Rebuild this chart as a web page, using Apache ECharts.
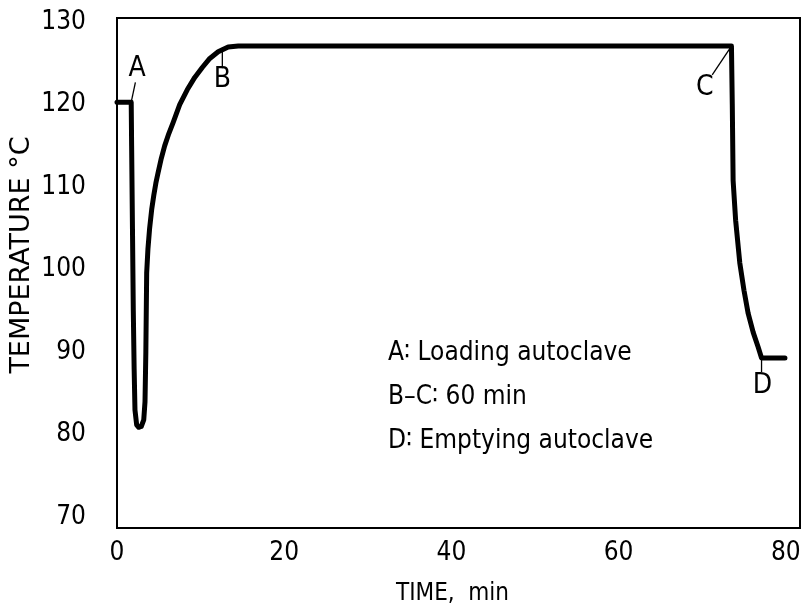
<!DOCTYPE html>
<html style="height: 100%">
<head>
    <meta charset="UTF-8">
    <title>Autoclave temperature</title>
    <script src="https://cdn.jsdelivr.net/npm/echarts/dist/echarts.min.js"></script>
    <style>
        #main { width: 804px; height: 610px; }
    </style>
</head>
<body style="height: 100%; margin: 0; background: #fff">
    <div id="main"></div>
    <script type="text/javascript">
        // time (min) / temperature (C)
        var curveTime = [0, 1.7, 1.75, 1.85, 1.95, 2.05, 2.15, 2.35, 2.6, 2.9, 3.2, 3.35, 3.45, 3.55, 3.7, 3.9, 4.15, 4.4, 4.65, 4.9, 5.3, 5.7, 6.2, 6.7, 7.5, 8.4, 9.3, 10.2, 11.1, 12.1, 13.3, 14.5, 73.5, 73.6, 73.7, 74.0, 74.5, 75.0, 75.5, 76.1, 76.7, 77.1, 79.9];
        var curveTemp = [120.3, 120.3, 115, 105, 95, 88, 83, 81.2, 80.9, 81, 81.8, 84, 90, 99.6, 102.5, 105, 107.3, 109, 110.5, 111.7, 113.5, 115, 116.5, 117.8, 120, 121.8, 123.3, 124.5, 125.6, 126.4, 127.0, 127.1, 127.1, 120, 110.8, 106, 100.8, 97.5, 94.7, 92.4, 90.6, 89.3, 89.3];

        // point letters and their leader lines
        var markNames = ['A', 'B', 'C', 'D'];
        var markPos = [[2.4, 124.4], [12.6, 123], [70.3, 122], [77.2, 85.9]];
        var leaders = [
            [[1.7, 120.3], [2.2, 122.7]],
            [[12.6, 126.9], [12.6, 124.4]],
            [[73.5, 127.1], [71.2, 123.6]],
            [[77.1, 89.3], [77.1, 87.6]]
        ];

        var xTicks = [0, 20, 40, 60, 80];
        var yTicks = [70, 80, 90, 100, 110, 120, 130];
        var notes = ['A\u2236 Loading autoclave', 'B\u2013C\u2236 60 min', 'D\u2236 Emptying autoclave'];

        var font = '"DejaVu Sans Condensed", "DejaVu Sans", sans-serif';
        var wide = '"DejaVu Sans", sans-serif';
        var chartDom = document.getElementById('main');
        var myChart = echarts.init(chartDom);

        var curve = curveTime.map(function (t, i) { return [t, curveTemp[i]]; });

        var series = [{
            type: 'line',
            data: curve,
            symbol: 'none',
            lineStyle: { color: '#000', width: 5, join: 'round', cap: 'round' },
            z: 3
        }];
        leaders.forEach(function (seg) {
            series.push({
                type: 'line',
                data: seg,
                symbol: 'none',
                lineStyle: { color: '#000', width: 1.3 },
                z: 2
            });
        });
        series.push({
            type: 'scatter',
            symbolSize: 0,
            itemStyle: { opacity: 1 },
            data: markPos.map(function (p, i) { return { value: p, name: markNames[i] }; }),
            label: {
                show: true,
                position: 'inside',
                formatter: '{b}',
                color: '#000',
                opacity: 1,
                textBorderWidth: 0,
                fontSize: 28,
                fontFamily: font
            }
        });

        var notesGraphic = notes.map(function (s, i) {
            return {
                type: 'text',
                left: 388,
                top: 340 + i * 44,
                style: { text: s, fill: '#000', fontSize: 26, fontFamily: font }
            };
        });
        notesGraphic.push({
            type: 'text',
            x: 22,
            y: 255,
            rotation: Math.PI / 2,
            style: {
                text: 'TEMPERATURE \u00B0C',
                fill: '#000',
                fontSize: 27,
                fontFamily: wide,
                align: 'center',
                verticalAlign: 'middle'
            }
        });

        var option = {
            animation: false,
            grid: {
                left: 117, top: 18, right: 4, bottom: 82,
                outerBoundsMode: 'none',
                containLabel: false,
                show: true, borderColor: '#000', borderWidth: 2
            },
            xAxis: {
                type: 'value',
                min: 0, max: 81.7,
                name: 'TIME,  min',
                nameLocation: 'middle',
                nameGap: 54,
                nameTextStyle: { color: '#000', fontSize: 24, fontFamily: font, padding: [0, 12, 0, 0] },
                axisLine: { show: false },
                axisTick: { show: false },
                splitLine: { show: false },
                axisLabel: {
                    customValues: xTicks,
                    color: '#000', fontSize: 26, fontFamily: font, margin: 12
                }
            },
            yAxis: {
                type: 'value',
                min: 68.7, max: 130.5,
                axisLine: { show: false },
                axisTick: { show: false },
                splitLine: { show: false },
                axisLabel: {
                    customValues: yTicks,
                    color: '#000', fontSize: 26, fontFamily: font, margin: 31
                }
            },
            graphic: notesGraphic,
            series: series
        };

        myChart.setOption(option);
    </script>
</body>
</html>
